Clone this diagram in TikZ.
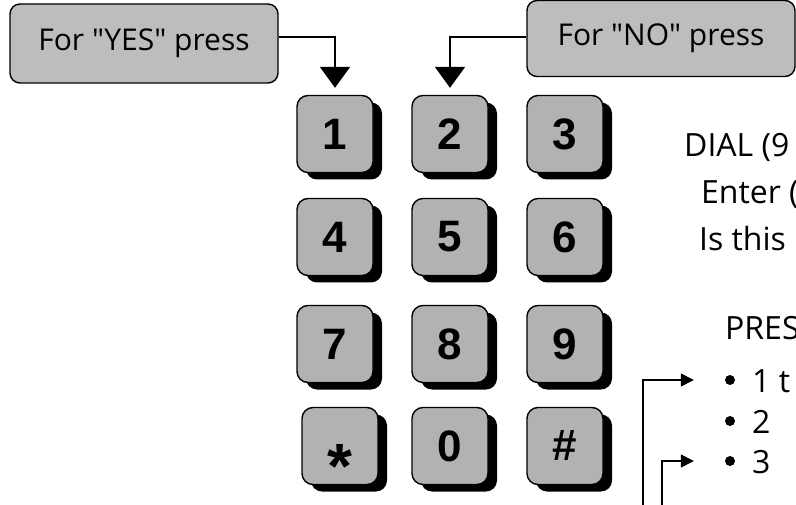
\documentclass[tikz,border=0pt]{standalone}
\usepackage{fontspec}
\newfontfamily\txtfont{Open Sans}
\newfontfamily\keyfont{Liberation Sans}
\usetikzlibrary{arrows.meta,shadows}
\definecolor{keygray}{gray}{0.70}
\definecolor{boxgray}{gray}{0.74}
\begin{document}
\begin{tikzpicture}[x=1pt,y=-1pt,
  keybox/.style={draw, line width=1.4pt, rounded corners=11pt, fill=keygray,
    minimum width=76pt, minimum height=77pt, inner sep=0pt,
    font=\keyfont\bfseries\fontsize{44}{44}\selectfont,
    drop shadow={shadow xshift=9pt, shadow yshift=-7pt, fill=black, opacity=1}},
  labelbox/.style={draw, line width=1.4pt, rounded corners=10pt, fill=boxgray,
    minimum width=268pt, inner sep=0pt, font=\txtfont\fontsize{30}{30}\selectfont},
  txt/.style={anchor=base west, inner sep=0pt, font=\txtfont\fontsize{32}{32}\selectfont},
  bigconn/.style={line width=2pt, -{Triangle[width=30pt,length=21pt]}, shorten >=7pt},
  smallconn/.style={line width=1.5pt, -{Triangle[width=13pt,length=13pt]}},
  dot/.style={circle, fill=black, inner sep=0pt, minimum size=10pt}]
\useasboundingbox (0,0) rectangle (796,505);
\clip (0,0) rectangle (796,505);
% label boxes
\node[labelbox, minimum height=79pt] (yes) at (144,43.5) {For "YES" press};
\node[labelbox, minimum height=76pt] (no) at (661,38.5) {For "NO" press};
% keys
\node[keybox] (k1) at (335,134) {1};
\node[keybox] (k2) at (450,134) {2};
\node[keybox] (k3) at (565,134) {3};
\node[keybox] (k4) at (335,237) {4};
\node[keybox] (k5) at (450,237) {5};
\node[keybox] (k6) at (565,237) {6};
\node[keybox] (k7) at (335,344) {7};
\node[keybox] (k8) at (450,344) {8};
\node[keybox] (k9) at (565,344) {9};
\node[keybox] (kstar) at (340,446) {\fontsize{64}{64}\selectfont\raisebox{-20pt}[\height][0pt]{*}};
\node[keybox] (k0) at (450,446) {0};
\node[keybox] (khash) at (565,446) {\#};
% connectors from label boxes
\draw[bigconn] (yes.east |- 0,37) -| (k1.north);
\draw[bigconn] (no.west |- 0,37) -| (k2.north);
% right-hand text
\node[txt] (dial) at (684,157) {DIAL (9};
\node[txt] (enter) at (701,204) {Enter (};
\node[txt] (isthis) at (699,251) {Is this};
\node[txt] (press) at (725,340) {PRES};
\node[dot] (b1) at (730,380) {};
\node[dot] (b2) at (730,421) {};
\node[dot] (b3) at (730,461) {};
\node[txt] (i1) at (752,392) {1 t};
\node[txt] (i2) at (752,433) {2};
\node[txt] (i3) at (752,473) {3};
% connectors to bullets
\coordinate (s1) at (643,505);
\coordinate (s2) at (662,505);
\draw[smallconn, shorten >=31pt] (s1) |- (b1);
\draw[smallconn, shorten >=31pt] (s2) |- (b3);
\end{tikzpicture}
\end{document}
